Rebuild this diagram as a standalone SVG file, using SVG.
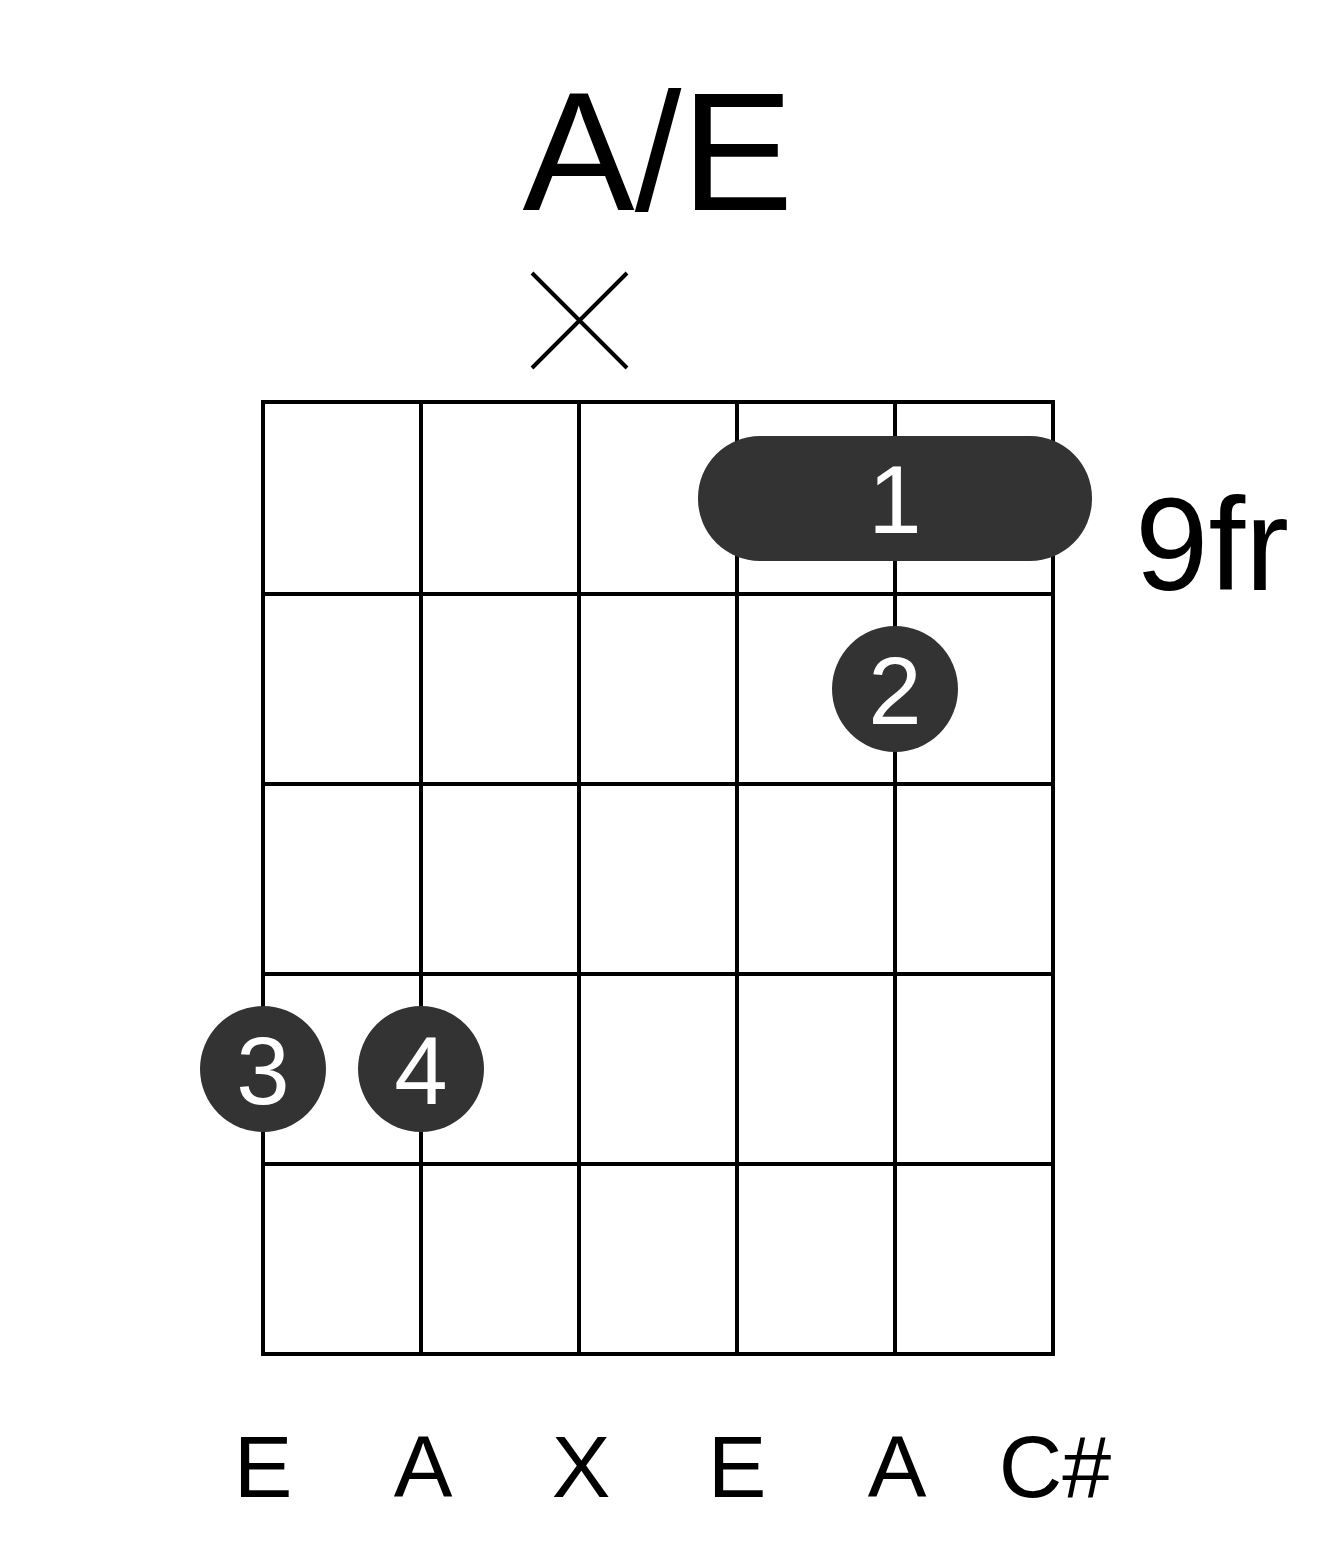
<svg xmlns="http://www.w3.org/2000/svg" width="1317" height="1551" viewBox="0 0 1317 1551">
<style>
.g{stroke:#000;stroke-width:4;fill:none}
.d{fill:#333}
.t{font-family:"Liberation Sans",Arial,sans-serif;text-anchor:middle}
.w{fill:#fff;font-size:96px}
.n{fill:#000;font-size:88px}
</style>
<rect width="1317" height="1551" fill="#fff"/>
<text class="t" x="658" y="210" font-size="168">A/E</text>
<g id="mute"><path class="g" d="M532 273L627 368M627 273L532 368"/></g>
<g id="grid">
<rect class="g" x="263" y="402" width="790" height="952"/>
<path class="g" d="M421 402V1354M579 402V1354M737 402V1354M895 402V1354M263 594H1053M263 784H1053M263 974H1053M263 1164H1053"/>
</g>
<g id="barre"><rect class="d" x="698" y="436" width="394" height="125" rx="62"/><text class="t w" x="895" y="533">1</text></g>
<g id="dot2"><circle class="d" cx="895" cy="689" r="63"/><text class="t w" x="895" y="724">2</text></g>
<g id="dot3"><circle class="d" cx="263" cy="1069" r="63"/><text class="t w" x="263" y="1104">3</text></g>
<g id="dot4"><circle class="d" cx="421" cy="1069" r="63"/><text class="t w" x="421" y="1104">4</text></g>
<text x="1135" y="590" font-family="Liberation Sans,Arial,sans-serif" font-size="132">9fr</text>
<g id="labels">
<text class="t n" x="263" y="1497">E</text>
<text class="t n" x="423" y="1497">A</text>
<text class="t n" x="581" y="1497">X</text>
<text class="t n" x="737" y="1497">E</text>
<text class="t n" x="897" y="1497">A</text>
<text class="t n" x="1055" y="1497">C#</text>
</g>
</svg>
